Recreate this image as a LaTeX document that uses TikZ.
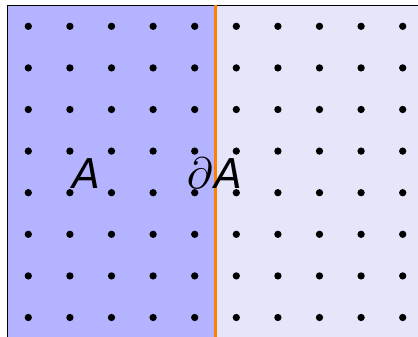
\documentclass[tikz,border=0pt]{standalone}
\usepackage{graphicx}
\usepackage{fontspec}
\setmainfont{DejaVu Sans}
\definecolor{inside}{RGB}{179,179,255}
\definecolor{outside}{RGB}{230,230,250}
\definecolor{edge}{RGB}{255,127,0}
\tikzset{
  pt/.style={circle,fill=black,inner sep=0pt,minimum size=7.3pt},
  lbl/.style={font=\fontsize{41}{41}\selectfont\itshape,inner sep=0pt}
}
\begin{document}
\begin{tikzpicture}[x=1pt,y=-1pt]
\useasboundingbox (0,0) rectangle (418,337);
\fill[inside] (7.5,5.5) rectangle (215.5,345);
\fill[outside] (215.5,5.5) rectangle (425,345);
\draw[line width=1.5pt] (7.5,345) -- (7.5,5.5) -- (425,5.5);
\foreach \i in {0,...,9}{
  \foreach \j in {0,...,7}{
    \node[pt] (d\i\j) at ({28.3+41.6*\i},{26.3+41.6*\j}) {};
  }
}
\coordinate (top) at (215.5,5.5);
\coordinate (bot) at (215.5,345);
\draw[edge,line width=3pt] (top) -- (bot);
\node[lbl,anchor=base] (A) at (86.5,188) {A};
\node[inner sep=0pt,anchor=base east] (dd) at (213,188) {\scalebox{4.4}{$\partial$}};
\node[lbl,anchor=base west] (dA) at (214.5,188) {A};
\end{tikzpicture}
\end{document}
